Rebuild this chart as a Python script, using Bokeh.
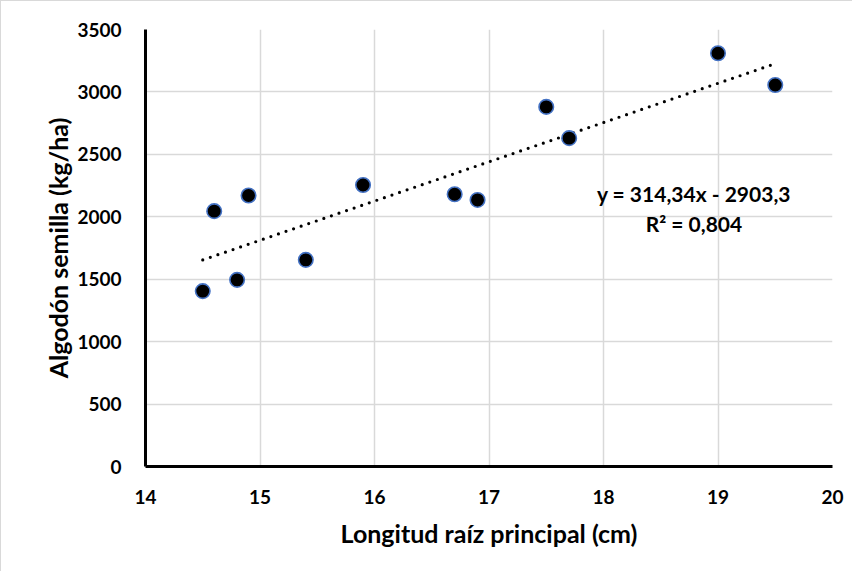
from bokeh.plotting import figure
from bokeh.models import ColumnDataSource, FixedTicker, Label, Range1d
from bokeh.embed import file_html
from bokeh.resources import INLINE

# Data
root_length_cm = [14.5, 14.6, 14.8, 14.9, 15.4, 15.9, 16.7, 16.9, 17.5, 17.7, 19.0, 19.5]
seed_cotton_kg_ha = [1405, 2045, 1495, 2170, 1655, 2255, 2180, 2135, 2880, 2630, 3310, 3055]

trend_slope = 314.34
trend_intercept = -2903.3
trend_r2 = 0.804

x_ticks = [14, 15, 16, 17, 18, 19, 20]
y_ticks = [0, 500, 1000, 1500, 2000, 2500, 3000, 3500]

x_title = "Longitud raíz principal (cm)"
y_title = "Algodón semilla (kg/ha)"

FONT = "Lato"

p = figure(width=852, height=571, output_backend="svg", toolbar_location=None,
           x_range=Range1d(14, 20), y_range=Range1d(0, 3500),
           min_border_left=144, min_border_right=21, min_border_top=28, min_border_bottom=106)

p.styles = {"border-left": "1px solid #d9d9d9", "border-top": "1px solid #d9d9d9"}

p.outline_line_color = None
p.background_fill_color = "white"
p.border_fill_color = "white"

p.xgrid.grid_line_color = "#d9d9d9"
p.ygrid.grid_line_color = "#d9d9d9"
p.xgrid.grid_line_width = 1.5
p.ygrid.grid_line_width = 1.5

p.xaxis.ticker = FixedTicker(ticks=x_ticks)
p.yaxis.ticker = FixedTicker(ticks=y_ticks)

for ax in (p.xaxis, p.yaxis):
    ax.axis_line_color = "black"
    ax.axis_line_width = 3
    ax.major_tick_line_color = None
    ax.minor_tick_line_color = None
    ax.major_label_text_font = FONT
    ax.major_label_text_font_style = "bold"
    ax.major_label_text_font_size = "19px"
    ax.major_label_text_color = "black"
    ax.axis_label_text_font = FONT
    ax.axis_label_text_font_style = "bold"
    ax.axis_label_text_font_size = "25px"
    ax.axis_label_text_color = "black"

p.xaxis.axis_label = x_title
p.yaxis.axis_label = y_title
p.xaxis.major_label_standoff = 17
p.yaxis.major_label_standoff = 18
p.xaxis.axis_label_standoff = 11
p.yaxis.axis_label_standoff = 1

# Linear trend line (from displayed equation)
x0, x1 = min(root_length_cm), max(root_length_cm)
trend_src = ColumnDataSource(dict(x=[x0, x1],
                                  y=[trend_slope * x0 + trend_intercept,
                                     trend_slope * x1 + trend_intercept]))
p.line("x", "y", source=trend_src, line_color="black", line_width=3.2,
       line_dash="0 8", line_cap="round")

src = ColumnDataSource(dict(x=root_length_cm, y=seed_cotton_kg_ha))
p.scatter("x", "y", source=src, size=14.5, fill_color="black",
          line_color="#4472C4", line_width=1.6)

def fmt(v, nd):
    return f"{abs(v):.{nd}f}".replace(".", ",")

eq_text = f"y = {fmt(trend_slope, 2)}x - {fmt(trend_intercept, 1)}"
r2_text = f"R² = {fmt(trend_r2, 3)}"

for txt, yv in ((eq_text, 2185), (r2_text, 1945)):
    p.add_layout(Label(x=18.79, y=yv, text=txt, text_align="center",
                       text_baseline="middle", text_font=FONT,
                       text_font_style="bold", text_font_size="21px",
                       text_color="black"))

open("out.html", "w").write(file_html(p, INLINE))
